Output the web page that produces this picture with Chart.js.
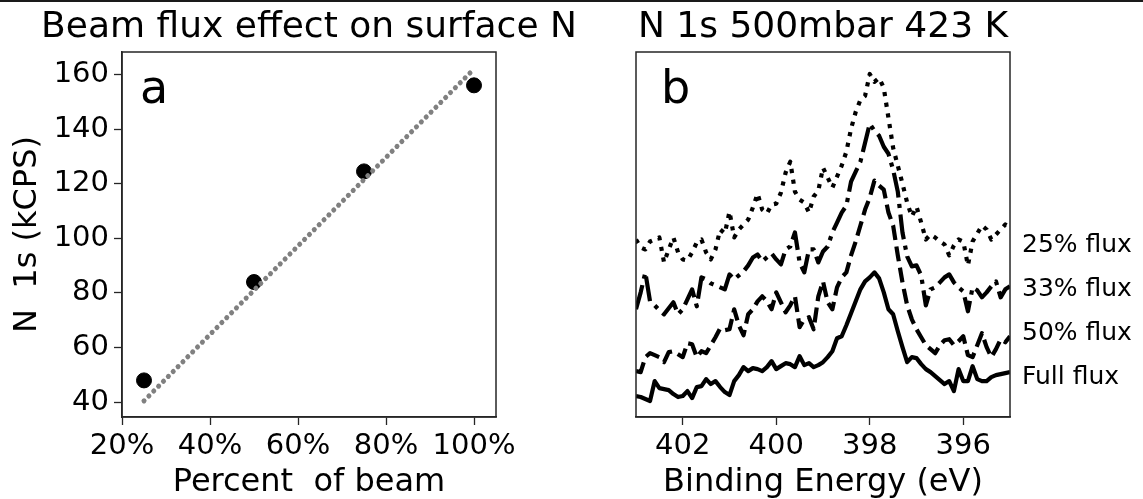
<!DOCTYPE html>
<html>
<head>
<meta charset="utf-8">
<script src="https://cdn.jsdelivr.net/npm/chart.js@4/dist/chart.umd.min.js"></script>
<style>
  body { margin: 0; background: #fff; width: 1143px; height: 499px; position: relative; overflow: hidden; font-family: 'DejaVu Sans', sans-serif; }
  #topRule { position: absolute; left: 0; top: 0; width: 1143px; height: 2px; background: #1a1a1a; }
  canvas { position: absolute; top: 0; }
  #chartA { left: 0; }
  #chartB { left: 560px; }
  .tag { position: absolute; font-size: 46px; line-height: 46px; color: #000; }
  .flux { position: absolute; left: 1022px; font-size: 25px; line-height: 25px; color: #000; white-space: pre; }
</style>
</head>
<body>
<div id="topRule"></div>
<canvas id="chartA" width="618" height="499"></canvas>
<canvas id="chartB" width="583" height="499"></canvas>
<div class="tag" style="left:140px; top:64px;">a</div>
<div class="tag" style="left:661px; top:64px;">b</div>
<div class="flux" style="top:231px;">25% flux</div>
<div class="flux" style="top:275px;">33% flux</div>
<div class="flux" style="top:319px;">50% flux</div>
<div class="flux" style="top:363px;">Full flux</div>
<script>
// panel a: N 1s signal vs beam percentage
const beamPercent = [25, 50, 75, 100];
const n1sKcps = [48, 84, 124.5, 156];
const fitPercent = [25, 100];
const fitKcps = [40.5, 162];

// panel b: N 1s spectra (binding energy, eV) - arbitrary intensity
const energyTicks = [402, 400, 398, 396];
const bindingEnergy = [
  403.0, 402.9, 402.8, 402.7, 402.6, 402.5, 402.4, 402.3, 402.2, 402.1,
  402.0, 401.9, 401.8, 401.7, 401.6, 401.5, 401.4, 401.3, 401.2, 401.1,
  401.0, 400.9, 400.8, 400.7, 400.6, 400.5, 400.4, 400.3, 400.2, 400.1,
  400.0, 399.9, 399.8, 399.7, 399.6, 399.5, 399.4, 399.3, 399.2, 399.1,
  399.0, 398.9, 398.8, 398.7, 398.6, 398.5, 398.4, 398.3, 398.2, 398.1,
  398.0, 397.9, 397.8, 397.7, 397.6, 397.5, 397.4, 397.3, 397.2, 397.1,
  397.0, 396.9, 396.8, 396.7, 396.6, 396.5, 396.4, 396.3, 396.2, 396.1,
  396.0, 395.9, 395.8, 395.7, 395.6, 395.5, 395.4, 395.3, 395.2, 395.1,
  395.0
];
const flux25 = [
  178, 170, 168, 176, 178, 180, 155, 168, 180, 165,
  158, 157, 165, 175, 178, 165, 158, 168, 188, 184,
  206, 180, 188, 193, 198, 210, 224, 208, 204, 213,
  214, 225, 245, 256, 226, 218, 215, 205, 221, 227,
  250, 240, 230, 241, 252, 266, 289, 306, 318, 322,
  344, 336, 340, 330, 300, 270, 252, 234, 215, 201,
  211, 195, 178, 183, 180, 176, 173, 162, 172, 178,
  176, 152, 176, 184, 192, 188, 178, 183, 188, 193,
  190
];
const flux33 = [
  108, 125, 145, 116, 112, 107, 103, 109, 115, 103,
  108, 118, 128, 111, 140, 138, 134, 132, 130, 128,
  143, 138, 142, 146, 152, 160, 163, 156, 160, 164,
  158, 153, 168, 171, 185, 155, 145, 168, 168, 155,
  166, 171, 185, 195, 205, 212, 236, 246, 256, 275,
  294, 287, 282, 271, 264, 248, 226, 185, 161, 151,
  152, 142, 112, 128, 130, 135, 140, 143, 135, 130,
  126, 106, 130, 127, 120, 125, 131, 136, 120, 128,
  131
];
const flux50 = [
  46, 45, 60, 64, 62, 60, 55, 65, 66, 63,
  60, 74, 73, 60, 66, 64, 72, 80, 89, 87,
  88, 108, 92, 82, 103, 108, 116, 121, 116, 108,
  125, 115, 105, 112, 121, 90, 98, 100, 88, 121,
  136, 115, 108, 130, 140, 145, 162, 176, 192, 208,
  220, 237, 232, 228, 205, 192, 162, 135, 112, 98,
  88, 80, 72, 68, 64, 72, 77, 78, 72, 76,
  81, 62, 60, 72, 84, 70, 60, 68, 78, 75,
  81
];
const fluxFull = [
  21, 20, 18, 16, 36, 29, 28, 27, 23, 20,
  21, 26, 19, 30, 31, 38, 33, 36, 30, 25,
  22, 36, 42, 50, 46, 49, 48, 46, 50, 56,
  48, 51, 54, 53, 50, 61, 52, 54, 50, 52,
  55, 60, 66, 79, 81, 92, 104, 116, 128, 136,
  140, 145, 139, 125, 108, 103, 86, 70, 55, 60,
  59, 53, 48, 45, 41, 37, 33, 36, 26, 48,
  36, 36, 51, 38, 36, 36, 40, 42, 43, 44,
  45
];

const FONT = 'DejaVu Sans';
const AXIS_COLOR = '#262626';

const frame = {
  id: 'frame',
  afterDatasetsDraw(chart) {
    const { ctx, chartArea: a } = chart;
    ctx.save();
    ctx.strokeStyle = AXIS_COLOR;
    ctx.lineWidth = 1.5;
    ctx.strokeRect(a.left, a.top, a.right - a.left, a.bottom - a.top);
    ctx.restore();
  }
};

const tickGrid = {
  display: true,
  drawOnChartArea: false,
  drawTicks: true,
  tickLength: 8,
  tickWidth: 1.3,
  color: AXIS_COLOR
};

const titleFont = { family: FONT, size: 36, weight: 'normal' };
const toPoints = (xs, ys) => xs.map((x, i) => ({ x: x, y: ys[i] }));

Chart.defaults.font.family = FONT;
Chart.defaults.color = '#000';

new Chart(document.getElementById('chartA'), {
  type: 'scatter',
  data: {
    datasets: [{
      data: toPoints(fitPercent, fitKcps),
      showLine: true,
      pointRadius: 0,
      borderColor: '#808080',
      borderWidth: 5,
      borderDash: [0.1, 6.8],
      borderCapStyle: 'round',
      order: 0
    }, {
      data: toPoints(beamPercent, n1sKcps),
      pointRadius: 7.5,
      pointBackgroundColor: '#000',
      pointBorderColor: '#000',
      showLine: false,
      order: 1
    }]
  },
  options: {
    responsive: false,
    animation: false,
    devicePixelRatio: 1,
    layout: { padding: 0 },
    plugins: {
      legend: { display: false },
      tooltip: { enabled: false },
      title: {
        display: true,
        text: 'Beam flux effect on surface N',
        fullSize: true,
        color: '#000',
        font: titleFont,
        padding: { top: 6, bottom: 2.8 }
      }
    },
    scales: {
      x: {
        type: 'linear',
        min: 20,
        max: 105,
        grid: tickGrid,
        border: { display: true, color: AXIS_COLOR, width: 1.5 },
        ticks: {
          stepSize: 20,
          includeBounds: false,
          padding: 4,
          color: '#000',
          font: { family: FONT, size: 29 },
          maxRotation: 0,
          callback: v => v + '%'
        },
        title: {
          display: true,
          text: 'Percent  of beam',
          color: '#000',
          font: { family: FONT, size: 32 },
          padding: { top: 0, bottom: -3 }
        },
        afterFit: s => { s.height = 82; }
      },
      y: {
        min: 34.6,
        max: 168.2,
        grid: tickGrid,
        border: { display: true, color: AXIS_COLOR, width: 1.5 },
        ticks: {
          stepSize: 20,
          includeBounds: false,
          padding: 5,
          color: '#000',
          font: { family: FONT, size: 29 }
        },
        title: {
          display: true,
          text: 'N  1s (kCPS)',
          color: '#000',
          font: { family: FONT, size: 32 },
          padding: { top: 8, bottom: 0 }
        },
        afterFit: s => { s.width = 122; }
      },
      // empty right margin so the full-width title is centred over the plot
      yRight: {
        type: 'linear',
        position: 'right',
        grid: { display: false },
        border: { display: false },
        ticks: { display: false },
        afterFit: s => { s.width = 122; }
      }
    }
  },
  plugins: [frame]
});

const spectrum = (values, dash) => ({
  data: toPoints(bindingEnergy, values),
  showLine: true,
  pointRadius: 0,
  borderColor: '#000',
  borderWidth: 4.2,
  borderDash: dash,
  borderCapStyle: 'butt',
  borderJoinStyle: 'round',
  tension: 0
});

new Chart(document.getElementById('chartB'), {
  type: 'scatter',
  data: {
    datasets: [
      spectrum(flux25, [4.2, 6.6]),
      spectrum(flux33, [25, 6.5, 4.2, 6.5]),
      spectrum(flux50, [15, 6.5]),
      spectrum(fluxFull, [])
    ]
  },
  options: {
    responsive: false,
    animation: false,
    devicePixelRatio: 1,
    layout: { padding: { left: 76, right: 133, top: 0, bottom: 0 } },
    plugins: {
      legend: { display: false },
      tooltip: { enabled: false },
      title: {
        display: true,
        text: 'N 1s 500mbar 423 K',
        fullSize: false,
        color: '#000',
        font: titleFont,
        padding: { top: 6, bottom: 2.8 }
      }
    },
    scales: {
      x: {
        type: 'linear',
        reverse: true,
        min: 395,
        max: 403,
        grid: tickGrid,
        border: { display: true, color: AXIS_COLOR, width: 1.5 },
        afterBuildTicks: s => { s.ticks = energyTicks.map(v => ({ value: v })); },
        ticks: {
          padding: 4,
          color: '#000',
          font: { family: FONT, size: 29 },
          maxRotation: 0
        },
        title: {
          display: true,
          text: 'Binding Energy (eV)',
          color: '#000',
          font: { family: FONT, size: 32 },
          padding: { top: 0, bottom: -3 }
        },
        afterFit: s => { s.height = 82; }
      },
      y: {
        display: false,
        min: 0,
        max: 366
      }
    }
  },
  plugins: [frame]
});
</script>
</body>
</html>
